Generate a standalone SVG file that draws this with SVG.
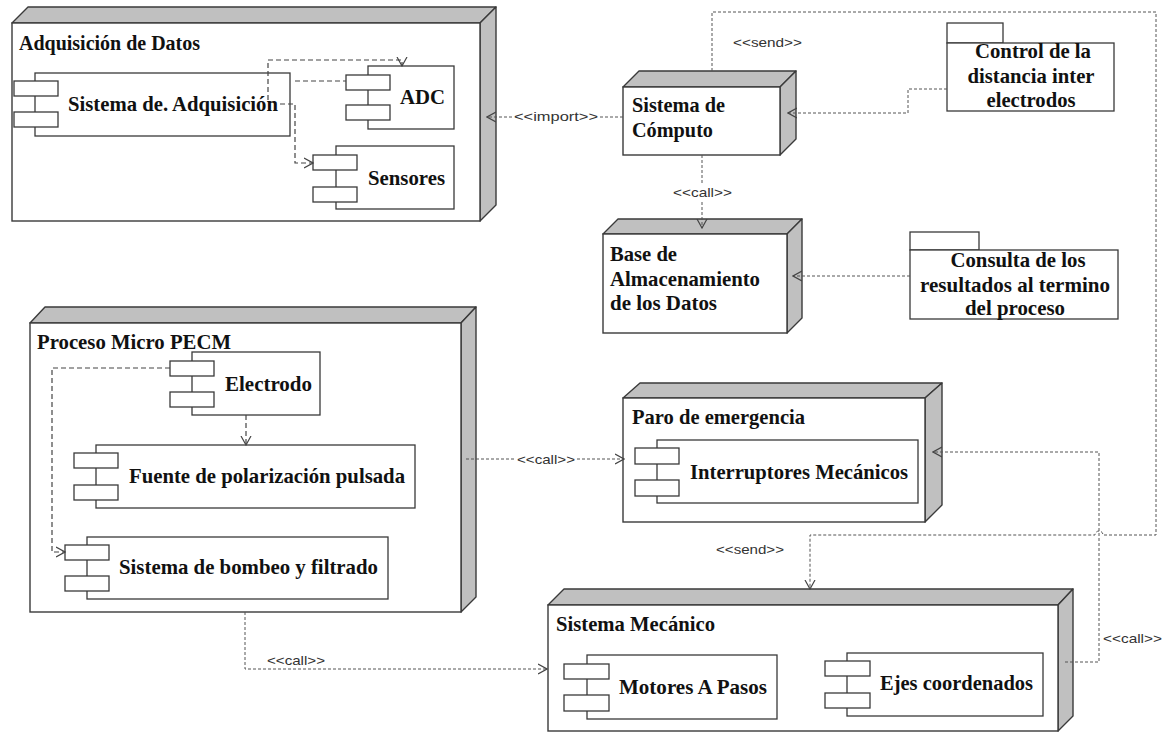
<svg xmlns="http://www.w3.org/2000/svg" width="1170" height="733" viewBox="0 0 1170 733">
<style>
.face{fill:#fff;stroke:#3a3a3a;stroke-width:1.4}
.side{fill:#c0c0c0;stroke:#3a3a3a;stroke-width:1.4;stroke-linejoin:round}
.cmp{fill:#fff;stroke:#3a3a3a;stroke-width:1.3}
.t{font-family:"Liberation Serif","Times New Roman",serif;font-weight:bold;font-size:21.5px;fill:#111}
.tc{font-family:"Liberation Serif","Times New Roman",serif;font-weight:bold;font-size:21.5px;fill:#111;text-anchor:middle}
.lbl{font-family:"Liberation Sans",Arial,sans-serif;font-size:13px;fill:#333}
.dep{fill:none;stroke:#555;stroke-width:1;stroke-dasharray:3,2}
.inner{fill:none;stroke:#444;stroke-width:1.2;stroke-dasharray:5,3}
</style>
<defs>
<marker id="arr" markerUnits="userSpaceOnUse" markerWidth="10" markerHeight="12" viewBox="0 0 10 12" refX="9" refY="6" orient="auto">
<path d="M0,1 L9,6 L0,11" fill="none" stroke="#444" stroke-width="1.2" stroke-dasharray="none"/>
</marker>
</defs>
<rect width="1170" height="733" fill="#fff"/>

<g id="adquisicion">
<polygon class="side" points="12,23 28,7 496,7 480,23"/>
<polygon class="side" points="480,23 496,7 496,205 480,221"/>
<rect class="face" x="12" y="23" width="468" height="198"/>
<text class="t" x="19" y="50" textLength="181" lengthAdjust="spacingAndGlyphs">Adquisición de Datos</text>
<g id="sistema-adq">
<rect class="cmp" x="35" y="73" width="255" height="63"/>
<rect class="cmp" x="14" y="81" width="44" height="15"/>
<rect class="cmp" x="14" y="112" width="44" height="15"/>
<text class="t" x="68" y="111" textLength="210" lengthAdjust="spacingAndGlyphs">Sistema de. Adquisición</text>
</g>
<g id="adc">
<rect class="cmp" x="368" y="66" width="86" height="63"/>
<rect class="cmp" x="346" y="75" width="44" height="15"/>
<rect class="cmp" x="346" y="105" width="44" height="15"/>
<text class="t" x="400" y="104" textLength="45" lengthAdjust="spacingAndGlyphs">ADC</text>
</g>
<g id="sensores">
<rect class="cmp" x="336" y="146" width="118" height="63"/>
<rect class="cmp" x="313" y="155" width="44" height="15"/>
<rect class="cmp" x="313" y="187" width="44" height="15"/>
<text class="t" x="368" y="185" textLength="77" lengthAdjust="spacingAndGlyphs">Sensores</text>
</g>
</g>

<g id="computo">
<polygon class="side" points="623,87 639,71 796,71 780,87"/>
<polygon class="side" points="780,87 796,71 796,139 780,155"/>
<rect class="face" x="623" y="87" width="157" height="68"/>
<text class="t" x="632" y="112" textLength="93" lengthAdjust="spacingAndGlyphs">Sistema de</text>
<text class="t" x="632" y="137" textLength="81" lengthAdjust="spacingAndGlyphs">Cómputo</text>
</g>

<g id="control">
<rect class="cmp" x="947" y="23" width="56" height="20"/>
<rect class="cmp" x="947" y="43" width="167" height="68"/>
<text class="tc" x="1033" y="58" textLength="116" lengthAdjust="spacingAndGlyphs">Control de la</text>
<text class="tc" x="1031" y="83" textLength="127" lengthAdjust="spacingAndGlyphs">distancia inter</text>
<text class="tc" x="1031" y="107" textLength="89" lengthAdjust="spacingAndGlyphs">electrodos</text>
</g>

<g id="base">
<polygon class="side" points="603,234 618,219 802,219 787,234"/>
<polygon class="side" points="787,234 802,219 802,318 787,333"/>
<rect class="face" x="603" y="234" width="184" height="99"/>
<text class="t" x="610" y="261" textLength="67" lengthAdjust="spacingAndGlyphs">Base de</text>
<text class="t" x="610" y="286" textLength="150" lengthAdjust="spacingAndGlyphs">Almacenamiento</text>
<text class="t" x="610" y="310" textLength="107" lengthAdjust="spacingAndGlyphs">de los Datos</text>
</g>

<g id="consulta">
<rect class="cmp" x="910" y="232" width="69" height="18"/>
<rect class="cmp" x="910" y="250" width="208" height="69"/>
<text class="tc" x="1018" y="267" textLength="135" lengthAdjust="spacingAndGlyphs">Consulta de los</text>
<text class="tc" x="1015" y="292" textLength="190" lengthAdjust="spacingAndGlyphs">resultados al termino</text>
<text class="tc" x="1015" y="315" textLength="100" lengthAdjust="spacingAndGlyphs">del proceso</text>
</g>

<g id="proceso">
<polygon class="side" points="30,323 45,307 476,307 461,323"/>
<polygon class="side" points="461,323 476,307 476,597 461,612"/>
<rect class="face" x="30" y="323" width="431" height="289"/>
<text class="t" x="37" y="349" textLength="194" lengthAdjust="spacingAndGlyphs">Proceso Micro PECM</text>
<g id="electrodo">
<rect class="cmp" x="192" y="352" width="128" height="63"/>
<rect class="cmp" x="170" y="361" width="44" height="15"/>
<rect class="cmp" x="170" y="392" width="44" height="15"/>
<text class="t" x="225" y="391" textLength="87" lengthAdjust="spacingAndGlyphs">Electrodo</text>
</g>
<g id="fuente">
<rect class="cmp" x="96" y="445" width="319" height="63"/>
<rect class="cmp" x="74" y="453" width="44" height="15"/>
<rect class="cmp" x="74" y="485" width="44" height="15"/>
<text class="t" x="129" y="483" textLength="276" lengthAdjust="spacingAndGlyphs">Fuente de polarización pulsada</text>
</g>
<g id="bombeo">
<rect class="cmp" x="87" y="537" width="301" height="62"/>
<rect class="cmp" x="65" y="545" width="44" height="15"/>
<rect class="cmp" x="65" y="576" width="44" height="15"/>
<text class="t" x="119" y="574" textLength="259" lengthAdjust="spacingAndGlyphs">Sistema de bombeo y filtrado</text>
</g>
</g>

<g id="paro">
<polygon class="side" points="623,398 640,383 942,383 925,398"/>
<polygon class="side" points="925,398 942,383 942,505 925,522"/>
<rect class="face" x="623" y="398" width="302" height="124"/>
<text class="t" x="632" y="424" textLength="173" lengthAdjust="spacingAndGlyphs">Paro de emergencia</text>
<g id="interruptores">
<rect class="cmp" x="657" y="440" width="261" height="63"/>
<rect class="cmp" x="635" y="448" width="44" height="16"/>
<rect class="cmp" x="635" y="480" width="44" height="16"/>
<text class="t" x="690" y="479" textLength="218" lengthAdjust="spacingAndGlyphs">Interruptores Mecánicos</text>
</g>
</g>

<g id="mecanico">
<polygon class="side" points="548,605 564,589 1073,589 1058,605"/>
<polygon class="side" points="1058,605 1073,589 1073,716 1058,731"/>
<rect class="face" x="548" y="605" width="510" height="126"/>
<text class="t" x="556" y="631" textLength="159" lengthAdjust="spacingAndGlyphs">Sistema Mecánico</text>
<g id="motores">
<rect class="cmp" x="587" y="655" width="190" height="64"/>
<rect class="cmp" x="564" y="664" width="45" height="15"/>
<rect class="cmp" x="564" y="695" width="45" height="16"/>
<text class="t" x="619" y="694" textLength="148" lengthAdjust="spacingAndGlyphs">Motores A Pasos</text>
</g>
<g id="ejes">
<rect class="cmp" x="847" y="653" width="196" height="63"/>
<rect class="cmp" x="825" y="661" width="45" height="15"/>
<rect class="cmp" x="825" y="693" width="45" height="15"/>
<text class="t" x="880" y="690" textLength="153" lengthAdjust="spacingAndGlyphs">Ejes coordenados</text>
</g>
</g>

<g id="connectors">
<path class="inner" d="M268,100 V60 H402 V66" marker-end="url(#arr)"/>
<path class="inner" d="M280,104 H295 V163 H313" marker-end="url(#arr)"/>
<path class="inner" d="M295,81 H346"/>
<path class="inner" d="M170,368 H52 V552 H65" marker-end="url(#arr)"/>
<path class="inner" d="M246,415 V445" marker-end="url(#arr)"/>

<path class="dep" d="M623,117 H600"/>
<path class="dep" d="M512,117 H487" marker-end="url(#arr)"/>
<text class="lbl" x="514" y="121" textLength="84" lengthAdjust="spacingAndGlyphs">&lt;&lt;import&gt;&gt;</text>

<path class="dep" d="M712,71 V12 H1156 V535 H1103 A4,4 0 0 0 1095,535 H810 V589" marker-end="url(#arr)"/>
<text class="lbl" x="733" y="47" textLength="69" lengthAdjust="spacingAndGlyphs">&lt;&lt;send&gt;&gt;</text>
<text class="lbl" x="716" y="554" textLength="68" lengthAdjust="spacingAndGlyphs">&lt;&lt;send&gt;&gt;</text>

<path class="dep" d="M702,155 V183"/>
<path class="dep" d="M702,202 V228" marker-end="url(#arr)"/>
<text class="lbl" x="673" y="197" textLength="59" lengthAdjust="spacingAndGlyphs">&lt;&lt;call&gt;&gt;</text>

<path class="dep" d="M947,89 H908 V113 H788" marker-end="url(#arr)"/>
<path class="dep" d="M910,276 H793" marker-end="url(#arr)"/>

<path class="dep" d="M466,459 H515"/>
<path class="dep" d="M577,459 H624" marker-end="url(#arr)"/>
<text class="lbl" x="517" y="464" textLength="58" lengthAdjust="spacingAndGlyphs">&lt;&lt;call&gt;&gt;</text>

<path class="dep" d="M245,612 V669 H547" marker-end="url(#arr)"/>
<text class="lbl" x="267" y="665" textLength="58" lengthAdjust="spacingAndGlyphs">&lt;&lt;call&gt;&gt;</text>

<path class="dep" d="M1065,662 H1099 V452 H933" marker-end="url(#arr)"/>
<text class="lbl" x="1103" y="643" textLength="59" lengthAdjust="spacingAndGlyphs">&lt;&lt;call&gt;&gt;</text>
</g>
</svg>
